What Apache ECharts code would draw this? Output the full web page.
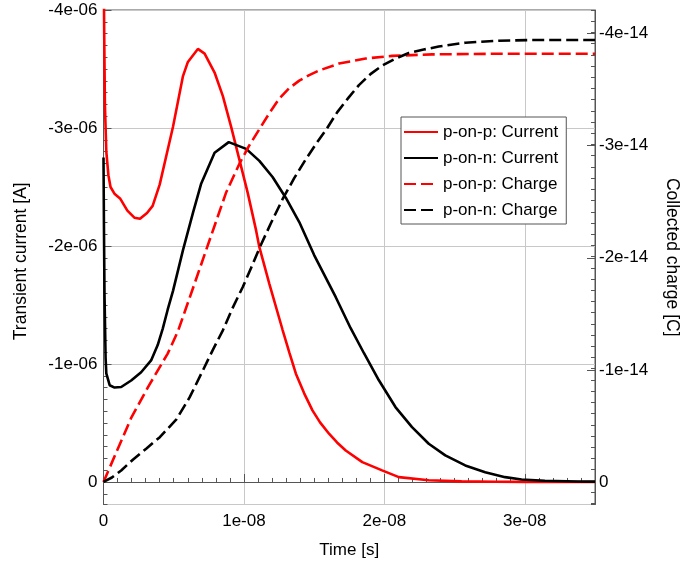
<!DOCTYPE html>
<html><head><meta charset="utf-8">
<script src="https://cdn.jsdelivr.net/npm/echarts@6/dist/echarts.min.js"></script>
<style>html,body{margin:0;padding:0;background:#fff}#c{width:684px;height:568px}</style>
</head><body><div id="c"></div><script>
// ---- data (SI units: seconds, amperes, coulombs) ----
const seriesNames = ['p-on-p: Current', 'p-on-n: Current', 'p-on-p: Charge', 'p-on-n: Charge'];
const xTickLabels = ['0', '1e-08', '2e-08', '3e-08'];
const leftTickLabels = ['-4e-06', '-3e-06', '-2e-06', '-1e-06', '0'];
const rightTickLabels = ['-4e-14', '-3e-14', '-2e-14', '-1e-14', '0'];

const tPonpCurrent = [0, 0.05e-9, 0.1e-9, 0.2e-9, 0.35e-9, 0.5e-9, 0.8e-9, 1.2e-9, 1.7e-9, 2.2e-9, 2.6e-9, 3.1e-9, 3.5e-9, 4.0e-9, 4.95e-9, 5.66e-9, 6.01e-9, 6.72e-9, 7.2e-9, 7.91e-9, 8.5e-9, 9.09e-9, 9.68e-9, 10.27e-9, 10.87e-9, 11.1e-9, 11.81e-9, 12.75e-9, 13.23e-9, 13.70e-9, 14.29e-9, 14.88e-9, 15.42e-9, 16.06e-9, 16.63e-9, 17.25e-9, 18.43e-9, 19.84e-9, 21.03e-9, 23.16e-9, 25.5e-9, 27.9e-9, 30e-9, 35e-9];
const iPonpCurrent = [-4.6e-6, -3.8e-6, -3.2e-6, -2.8e-6, -2.6e-6, -2.5e-6, -2.44e-6, -2.40e-6, -2.30e-6, -2.24e-6, -2.23e-6, -2.28e-6, -2.34e-6, -2.52e-6, -3.01e-6, -3.44e-6, -3.56e-6, -3.67e-6, -3.63e-6, -3.47e-6, -3.27e-6, -3.01e-6, -2.73e-6, -2.45e-6, -2.13e-6, -1.99e-6, -1.679e-6, -1.29e-6, -1.099e-6, -0.918e-6, -0.751e-6, -0.607e-6, -0.505e-6, -0.409e-6, -0.335e-6, -0.267e-6, -0.168e-6, -0.098e-6, -0.041e-6, -0.015e-6, -0.005e-6, -0.002e-6, -0.001e-6, 0];

const tPonnCurrent = [0, 0.03e-9, 0.07e-9, 0.15e-9, 0.2e-9, 0.44e-9, 0.79e-9, 1.26e-9, 1.97e-9, 2.68e-9, 3.39e-9, 3.86e-9, 4.22e-9, 4.57e-9, 4.95e-9, 5.66e-9, 6.37e-9, 6.96e-9, 7.91e-9, 8.92e-9, 10.16e-9, 11.10e-9, 12.04e-9, 12.99e-9, 13.94e-9, 15.0e-9, 16.54e-9, 17.60e-9, 18.55e-9, 19.61e-9, 20.79e-9, 21.97e-9, 23.16e-9, 24.34e-9, 25.76e-9, 27.18e-9, 28.6e-9, 29.77e-9, 31.43e-9, 33.8e-9, 35e-9];
const iPonnCurrent = [-2.75e-6, -2.2e-6, -1.6e-6, -1.05e-6, -0.92e-6, -0.82e-6, -0.80e-6, -0.805e-6, -0.86e-6, -0.93e-6, -1.03e-6, -1.16e-6, -1.30e-6, -1.46e-6, -1.62e-6, -1.965e-6, -2.28e-6, -2.53e-6, -2.79e-6, -2.88e-6, -2.823e-6, -2.721e-6, -2.585e-6, -2.407e-6, -2.203e-6, -1.923e-6, -1.566e-6, -1.303e-6, -1.091e-6, -0.862e-6, -0.635e-6, -0.465e-6, -0.324e-6, -0.225e-6, -0.14e-6, -0.083e-6, -0.041e-6, -0.021e-6, -0.01e-6, -0.004e-6, -0.003e-6];

const tPonpCharge = [0, 1.97e-9, 3.16e-9, 4.57e-9, 5.30e-9, 6.37e-9, 7.55e-9, 8.74e-9, 9.68e-9, 10.39e-9, 11.10e-9, 11.81e-9, 12.52e-9, 13.23e-9, 13.94e-9, 14.65e-9, 15.35e-9, 16.77e-9, 18.67e-9, 20.55e-9, 23.39e-9, 28.12e-9, 35e-9];
const qPonpCharge = [0, -0.571e-14, -0.844e-14, -1.145e-14, -1.344e-14, -1.728e-14, -2.156e-14, -2.585e-14, -2.839e-14, -3.004e-14, -3.147e-14, -3.290e-14, -3.420e-14, -3.513e-14, -3.580e-14, -3.629e-14, -3.670e-14, -3.732e-14, -3.777e-14, -3.801e-14, -3.814e-14, -3.820e-14, -3.820e-14];

const tPonnCharge = [0, 0.60e-9, 1.26e-9, 2.11e-9, 3.06e-9, 4.01e-9, 5.19e-9, 6.13e-9, 7.08e-9, 7.77e-9, 8.50e-9, 9.18e-9, 9.91e-9, 10.50e-9, 11.10e-9, 11.92e-9, 12.75e-9, 13.58e-9, 14.41e-9, 15.12e-9, 15.83e-9, 16.65e-9, 17.48e-9, 18.19e-9, 19.01e-9, 19.84e-9, 20.79e-9, 21.74e-9, 22.80e-9, 23.87e-9, 25.76e-9, 28.12e-9, 30.48e-9, 35e-9];
const qPonnCharge = [0, -0.040e-14, -0.103e-14, -0.201e-14, -0.299e-14, -0.400e-14, -0.558e-14, -0.754e-14, -0.996e-14, -1.174e-14, -1.353e-14, -1.549e-14, -1.737e-14, -1.906e-14, -2.085e-14, -2.308e-14, -2.522e-14, -2.710e-14, -2.879e-14, -3.013e-14, -3.138e-14, -3.299e-14, -3.433e-14, -3.540e-14, -3.638e-14, -3.714e-14, -3.777e-14, -3.826e-14, -3.857e-14, -3.884e-14, -3.918e-14, -3.936e-14, -3.942e-14, -3.942e-14];

// ---- helpers ----
function pairs(xs, ys) { return xs.map((x, i) => [x, ys[i]]); }
function labelFrom(list, ticks) {
  return function (v) {
    for (let i = 0; i < ticks.length; i++) {
      if (Math.abs(v - ticks[i]) <= Math.abs(ticks[1] - ticks[0]) * 1e-6) return list[i];
    }
    return '';
  };
}
const xTickVals = [0, 1e-8, 2e-8, 3e-8];
const leftTickVals = [-4e-6, -3e-6, -2e-6, -1e-6, 0];
const rightTickVals = [-4e-14, -3e-14, -2e-14, -1e-14, 0];

const FONT = 'Liberation Sans, Arial, sans-serif';
const AX = '#555';
const GRID = '#c8c8c8';
const RED = '#ff0000';
const BLACK = '#000000';

const LMIN = -4e-6, LMAX = 1.909e-7;
const RMIN = -4.21e-14, RMAX = 0.2009e-14;

const chart = echarts.init(document.getElementById('c'), null, { renderer: 'canvas' });
chart.setOption({
  animation: false,
  backgroundColor: '#fff',
  textStyle: { fontFamily: FONT },
  grid: { left: 103.5, right: 89, top: 10, bottom: 63.5, show: true, borderColor: AX, borderWidth: 1, backgroundColor: 'transparent', containLabel: false, outerBoundsMode: 'none' },
  xAxis: [
    {
      type: 'value', min: 0, max: 3.5e-8, interval: 1e-8, position: 'bottom',
      name: 'Time [s]', nameLocation: 'middle', nameGap: 37,
      nameTextStyle: { fontSize: 17, color: '#000', fontFamily: FONT },
      axisLine: { show: true, lineStyle: { color: AX, width: 1 } },
      axisTick: { show: true, inside: true, length: 8, lineStyle: { color: AX } },
      axisLabel: { show: true, formatter: labelFrom(xTickLabels, xTickVals), fontSize: 17, color: '#000', margin: 8, fontFamily: FONT, showMaxLabel: false, showMinLabel: true },
      splitLine: { show: true, lineStyle: { color: GRID, width: 1 } },
      minorTick: { show: false }
    },
    {
      type: 'value', min: 0, max: 3.5e-8, interval: 1e-9, position: 'bottom',
      axisLine: { show: false },
      axisTick: { show: true, inside: true, length: 4, lineStyle: { color: AX } },
      axisLabel: { show: false }, splitLine: { show: false }
    }
  ],
  yAxis: [
    {
      type: 'value', min: LMIN, max: LMAX, interval: 1e-6, inverse: true, position: 'left',
      name: 'Transient current [A]', nameLocation: 'middle', nameGap: 73, nameRotate: 90,
      nameTextStyle: { fontSize: 17.5, color: '#000', fontFamily: FONT, padding: [0, 8, 0, 0] },
      axisLine: { show: true, lineStyle: { color: AX, width: 1 } },
      axisTick: { show: true, inside: true, length: 8, lineStyle: { color: AX } },
      axisLabel: { show: true, formatter: labelFrom(leftTickLabels, leftTickVals), fontSize: 17, color: '#000', margin: 6, fontFamily: FONT, showMaxLabel: false },
      splitLine: { show: true, lineStyle: { color: GRID, width: 1 } }
    },
    {
      type: 'value', min: LMIN, max: LMAX, interval: 1e-7, inverse: true, position: 'left',
      axisLine: { show: false },
      axisTick: { show: true, inside: true, length: 4, lineStyle: { color: AX } },
      axisLabel: { show: false }, splitLine: { show: false }
    },
    {
      type: 'value', min: RMIN, max: RMAX, splitNumber: 5, inverse: true, position: 'right',
      name: 'Collected charge [C]', nameLocation: 'middle', nameGap: 68, nameRotate: -90,
      nameTextStyle: { fontSize: 17.5, color: '#000', fontFamily: FONT },
      axisLine: { show: true, lineStyle: { color: AX, width: 1 } },
      axisTick: { show: true, inside: true, length: 8, lineStyle: { color: AX } },
      axisLabel: { show: true, formatter: labelFrom(rightTickLabels, rightTickVals), fontSize: 17, color: '#000', margin: 4, fontFamily: FONT, showMinLabel: false, showMaxLabel: false },
      splitLine: { show: false }
    },
    {
      type: 'value', min: RMIN, max: RMAX, interval: 1e-15, inverse: true, position: 'right',
      axisLine: { show: false },
      axisTick: { show: true, inside: true, length: 4, lineStyle: { color: AX } },
      axisLabel: { show: false }, splitLine: { show: false }
    }
  ],
  legend: {
    orient: 'vertical', left: 401, top: 117,
    itemWidth: 34, itemHeight: 12, itemGap: 6,
    padding: [5, 8, 4, 2],
    backgroundColor: '#fff', borderColor: AX, borderWidth: 1, borderRadius: 0,
    itemStyle: { opacity: 0 },
    textStyle: { fontSize: 17, color: '#000', fontFamily: FONT, lineHeight: 20 },
    data: seriesNames
  },
  series: [
    { name: seriesNames[0], type: 'line', xAxisIndex: 0, yAxisIndex: 0, symbol: 'none', smooth: false, clip: true,
      lineStyle: { color: RED, width: 2.6 }, itemStyle: { color: RED }, data: pairs(tPonpCurrent, iPonpCurrent) },
    { name: seriesNames[1], type: 'line', xAxisIndex: 0, yAxisIndex: 0, symbol: 'none', smooth: false, clip: true,
      lineStyle: { color: BLACK, width: 2.6 }, itemStyle: { color: BLACK }, data: pairs(tPonnCurrent, iPonnCurrent) },
    { name: seriesNames[2], type: 'line', xAxisIndex: 0, yAxisIndex: 2, symbol: 'none', smooth: false, clip: true,
      lineStyle: { color: RED, width: 2.6, type: [12, 5] }, itemStyle: { color: RED }, data: pairs(tPonpCharge, qPonpCharge) },
    { name: seriesNames[3], type: 'line', xAxisIndex: 0, yAxisIndex: 2, symbol: 'none', smooth: false, clip: true,
      lineStyle: { color: BLACK, width: 2.6, type: [12, 5] }, itemStyle: { color: BLACK }, data: pairs(tPonnCharge, qPonnCharge) }
  ]
});
</script></body></html>
